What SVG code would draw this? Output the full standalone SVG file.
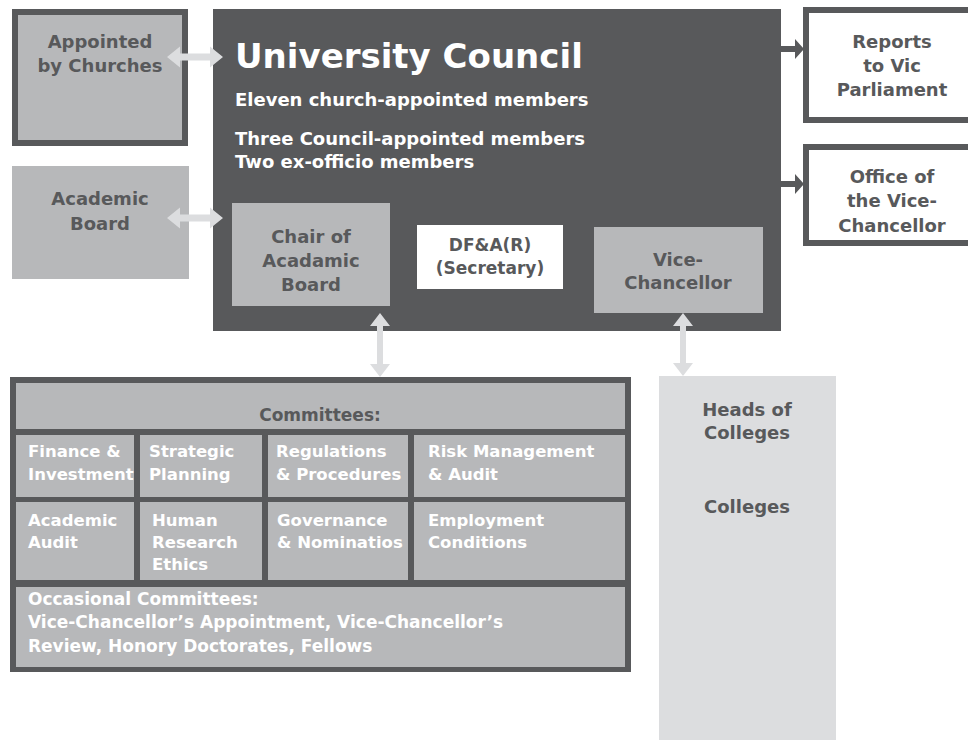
<svg xmlns="http://www.w3.org/2000/svg" width="968" height="740" viewBox="0 0 968 740">
  <style>
    text { font-family: "DejaVu Sans", "Liberation Sans", sans-serif; font-weight: bold; }
    .dk { fill: #58595b; }
    .wt { fill: #ffffff; }
    .mid { fill: #b7b8ba; }
    .lt { fill: #dcdddf; }
    .c { text-anchor: middle; }
    .f18 { font-size: 18px; }
    .f17 { font-size: 17px; }
    .cell { font-size: 16.5px; }
    .framed { stroke: #58595b; stroke-width: 6; }
  </style>

  <!-- Council and its members -->
  <g id="council">
    <rect x="213" y="9" width="568" height="322" class="dk"/>
    <text x="235" y="68" class="wt" style="font-size:34px">University Council</text>
    <text x="235" y="106" class="wt f18">Eleven church-appointed members</text>
    <text x="235" y="145" class="wt f18">Three Council-appointed members</text>
    <text x="235" y="168" class="wt f18">Two ex-officio members</text>
  </g>

  <g id="chair">
    <rect x="232" y="203" width="158" height="103" class="mid"/>
    <text x="311" y="243" class="dk c f18">Chair of</text>
    <text x="311" y="267" class="dk c f18">Acadamic</text>
    <text x="311" y="291" class="dk c f18">Board</text>
  </g>

  <g id="secretary">
    <rect x="417" y="225" width="146" height="64" class="wt"/>
    <text x="490" y="251" class="dk c f17">DF&amp;A(R)</text>
    <text x="490" y="274" class="dk c f17">(Secretary)</text>
  </g>

  <g id="vice-chancellor">
    <rect x="594" y="227" width="169" height="86" class="mid"/>
    <text x="678" y="266" class="dk c f18">Vice-</text>
    <text x="678" y="289" class="dk c f18">Chancellor</text>
  </g>

  <!-- Left side bodies -->
  <g id="churches">
    <rect x="15" y="12" width="170" height="131" class="mid framed"/>
    <text x="100" y="48" class="dk c f18">Appointed</text>
    <text x="100" y="72" class="dk c f18">by Churches</text>
  </g>

  <g id="academic-board">
    <rect x="12" y="166" width="177" height="113" class="mid"/>
    <text x="100" y="205" class="dk c f18">Academic</text>
    <text x="100" y="230" class="dk c f18">Board</text>
  </g>

  <!-- Right side bodies -->
  <g id="parliament">
    <rect x="806" y="10" width="172" height="110" fill="#ffffff" class="framed"/>
    <text x="892" y="48" class="dk c f18">Reports</text>
    <text x="892" y="72" class="dk c f18">to Vic</text>
    <text x="892" y="96" class="dk c f18">Parliament</text>
  </g>

  <g id="office-vc">
    <rect x="806" y="147" width="172" height="96" fill="#ffffff" class="framed"/>
    <text x="892" y="183" class="dk c f18">Office of</text>
    <text x="892" y="207" class="dk c f18">the Vice-</text>
    <text x="892" y="232" class="dk c f18">Chancellor</text>
  </g>

  <!-- Committees table -->
  <g id="committees">
    <rect x="10" y="377" width="621" height="295" class="dk"/>
    <rect x="16" y="383" width="609" height="46" class="mid"/>
    <text x="320" y="421" class="dk c f17">Committees:</text>

    <rect x="16" y="435" width="118" height="62" class="mid"/>
    <rect x="140" y="435" width="122" height="62" class="mid"/>
    <rect x="268" y="435" width="140" height="62" class="mid"/>
    <rect x="414" y="435" width="211" height="62" class="mid"/>
    <text x="28" y="457" class="wt cell">Finance &amp;</text>
    <text x="28" y="480" class="wt cell">Investment</text>
    <text x="149" y="457" class="wt cell">Strategic</text>
    <text x="149" y="480" class="wt cell">Planning</text>
    <text x="276" y="457" class="wt cell">Regulations</text>
    <text x="276" y="480" class="wt cell">&amp; Procedures</text>
    <text x="428" y="457" class="wt cell">Risk Management</text>
    <text x="428" y="480" class="wt cell">&amp; Audit</text>

    <rect x="16" y="502" width="118" height="78" class="mid"/>
    <rect x="140" y="502" width="122" height="78" class="mid"/>
    <rect x="268" y="502" width="140" height="78" class="mid"/>
    <rect x="414" y="502" width="211" height="78" class="mid"/>
    <text x="28" y="526" class="wt cell">Academic</text>
    <text x="28" y="548" class="wt cell">Audit</text>
    <text x="152" y="526" class="wt cell">Human</text>
    <text x="152" y="548" class="wt cell">Research</text>
    <text x="152" y="570" class="wt cell">Ethics</text>
    <text x="277" y="526" class="wt cell">Governance</text>
    <text x="277" y="548" class="wt cell">&amp; Nominatios</text>
    <text x="428" y="526" class="wt cell">Employment</text>
    <text x="428" y="548" class="wt cell">Conditions</text>

    <rect x="16" y="587" width="609" height="80" class="mid"/>
    <text x="28" y="605" class="wt f17">Occasional Committees:</text>
    <text x="28" y="628" class="wt f17">Vice-Chancellor’s Appointment, Vice-Chancellor’s</text>
    <text x="28" y="652" class="wt f17">Review, Honory Doctorates, Fellows</text>
  </g>

  <g id="colleges">
    <rect x="659" y="376" width="177" height="370" class="lt"/>
    <text x="747" y="416" class="dk c f18">Heads of</text>
    <text x="747" y="439" class="dk c f18">Colleges</text>
    <text x="747" y="513" class="dk c f18">Colleges</text>
  </g>

  <!-- Connectors -->
  <g id="connectors">
    <polygon class="lt" points="167,57 180,46.5 180,53.5 210,53.5 210,46.5 223,57 210,67.5 210,60.5 180,60.5 180,67.5"/>
    <polygon class="lt" points="167,218 180,207.5 180,214.5 210,214.5 210,207.5 223,218 210,228.5 210,221.5 180,221.5 180,228.5"/>
    <polygon class="lt" points="380,313 390,326 383,326 383,364 390,364 380,377 370,364 377,364 377,326 370,326"/>
    <polygon class="lt" points="683,313 693,326 686,326 686,363 693,363 683,376 673,363 680,363 680,326 673,326"/>
    <polygon class="dk" points="781,46 795,46 795,39 804,49 795,59 795,52 781,52"/>
    <polygon class="dk" points="781,181 795,181 795,174 804,184 795,194 795,187 781,187"/>
  </g>
</svg>
